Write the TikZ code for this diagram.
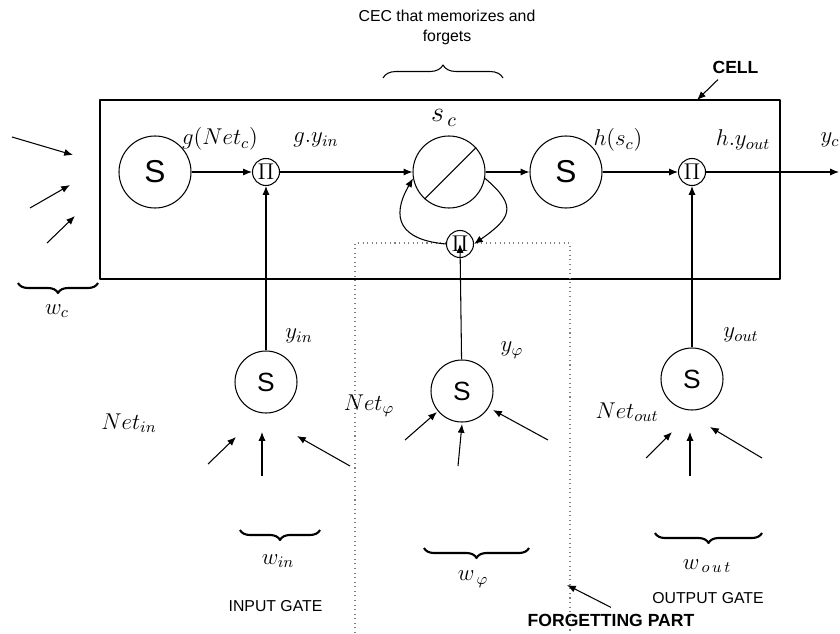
\documentclass[tikz,border=0pt]{standalone}
\usepackage{fix-cm}
\usepackage{fontspec}
\newfontfamily\arial{Liberation Sans}
\usetikzlibrary{arrows.meta,decorations.pathreplacing}
\begin{document}
\begin{tikzpicture}[line join=round,>={Latex[length=5pt,width=4pt]},line width=0.6pt,
	neuron/.style={circle,draw,minimum size=1.44cm,inner sep=0pt,font=\arial\fontsize{18}{18}\selectfont},
	gate/.style={neuron,minimum size=1.24cm,font=\arial\fontsize{15}{15}\selectfont},
	prod/.style={circle,draw,fill=white,minimum size=0.54cm,inner sep=0pt,font=\fontsize{13}{13}\selectfont},
	lbl/.style={font=\fontsize{13}{15}\selectfont},
	txt/.style={font=\arial\fontsize{9}{11}\selectfont},
	bold/.style={font=\arial\bfseries\fontsize{10}{12}\selectfont},
	brc/.style={decorate,decoration={brace,amplitude=0.2cm},line width=1.2pt}]
	\useasboundingbox (0,0) rectangle (16.8,12.66);
	\draw[line width=0.9pt] (2,7.08) rectangle (15.6,10.66);
	\draw[gray,dotted] (7.1,0) -- (7.1,7.8) -- (11.4,7.8) -- (11.4,0);
	\node[neuron] (sc) at (3.1,9.22) {S};
	\node[prod] (pin) at (5.32,9.22) {$\Pi$};
	\node[neuron] (cec) at (8.98,9.22) {};
	\draw (cec.228) -- (cec.42);
	\node[neuron] (sh) at (11.32,9.22) {S};
	\node[prod] (pout) at (13.84,9.22) {$\Pi$};
	\node[prod] (pphi) at (9.2,7.78) {$\Pi$};
	\coordinate (yc) at (16.78,9.22);
	\node[gate] (gin) at (5.32,5.02) {S};
	\node[gate] (gphi) at (9.24,4.84) {S};
	\node[gate] (gout) at (13.84,5.08) {S};
	\draw[->] (sc) -- (pin);
	\draw[->] (pin) -- (cec);
	\draw[->] (cec) -- (sh);
	\draw[->] (sh) -- (pout);
	\draw[->] (pout) -- (yc);
	\draw[->] (cec.-10) to[out=-40,in=35,looseness=1.7] (pphi.east);
	\draw[->] (pphi.west) to[out=175,in=240,looseness=1.6] (cec.190);
	\draw[->] (gin) -- (pin);
	\draw[->] (gphi) -- (pphi.center);
	\draw[->] (gout) -- (pout);
	\draw[->] (0.24,9.92) -- (1.46,9.56);
	\draw[->] (0.6,8.5) -- (1.4,8.96);
	\draw[->] (0.94,7.8) -- (1.5,8.34);
	\draw[->] ([shift={(-1.16,-1.64)}]gin.center) -- ([shift={(-0.6,-1.1)}]gin.center);
	\draw[->] ([shift={(-0.08,-1.88)}]gin.center) -- ([shift={(-0.08,-1.0)}]gin.center);
	\draw[->] ([shift={(1.68,-1.68)}]gin.center) -- ([shift={(0.62,-1.08)}]gin.center);
	\draw[->] ([shift={(-1.14,-0.98)}]gphi.center) -- ([shift={(-0.5,-0.42)}]gphi.center);
	\draw[->] ([shift={(-0.08,-1.5)}]gphi.center) -- ([shift={(0,-0.66)}]gphi.center);
	\draw[->] ([shift={(1.72,-0.98)}]gphi.center) -- ([shift={(0.62,-0.38)}]gphi.center);
	\draw[->] ([shift={(-0.92,-1.58)}]gout.center) -- ([shift={(-0.4,-1.06)}]gout.center);
	\draw[->] ([shift={(-0.04,-1.94)}]gout.center) -- ([shift={(-0.04,-1.06)}]gout.center);
	\draw[->] ([shift={(1.4,-1.58)}]gout.center) -- ([shift={(0.36,-0.96)}]gout.center);
	\draw[brc] (1.96,7.0) -- (0.36,7.0);
	\draw[brc] (6.4,2.06) -- (4.8,2.06);
	\draw[brc] (10.58,1.7) -- (8.48,1.7);
	\draw[brc] (15.24,2.0) -- (13.1,2.0);
	\draw[decorate,decoration={brace,amplitude=0.26cm}] (7.66,11.1) -- (10.06,11.1);
	\node[lbl] (lgnet) at (4.4,9.88) {$g(Net_c)$};
	\node[lbl] (lgy) at (6.32,9.86) {$g.y_{in}$};
	\node[font=\fontsize{16}{16}\selectfont] (lsc) at (8.88,10.3) {$s_{\,c}$};
	\node[lbl] (lhs) at (12.36,9.86) {$h(s_c)$};
	\node[lbl] (lhy) at (14.86,9.86) {$h.y_{out}$};
	\node[lbl] (lyc) at (16.6,9.86) {$y_c$};
	\node[lbl] (lwc) at (1.14,6.44) {$w_c$};
	\node[lbl] (lyin) at (5.98,5.94) {$y_{in}$};
	\node[lbl] (lnin) at (2.58,4.2) {$Net_{in}$};
	\node[lbl] (lyphi) at (10.24,5.66) {$y_\varphi$};
	\node[lbl] (lnphi) at (7.38,4.54) {$Net_\varphi$};
	\node[lbl] (lyout) at (14.82,5.96) {$y_{out}$};
	\node[lbl] (lnout) at (12.54,4.42) {$Net_{out}$};
	\node[lbl] (lwin) at (5.56,1.44) {$w_{in}$};
	\node[lbl] (lwphi) at (9.46,1.08) {$w_{\,\varphi}$};
	\node[lbl] (lwout) at (14.14,1.34) {$w_{\,o\,u\,t}$};
	\node[txt,align=center] (cectxt) at (8.94,12.11) {CEC that memorizes and\\forgets};
	\node[txt] (ingate) at (5.51,0.54) {INPUT GATE};
	\node[txt] (outgate) at (14.16,0.7) {OUTPUT GATE};
	\node[bold] (cell) at (14.71,11.32) {CELL};
	\coordinate (celltop) at (13.94,10.66);
	\draw[->] ([xshift=-10pt]cell.south) -- (celltop);
	\node[bold] (forget) at (12.22,0.26) {FORGETTING PART};
	\coordinate (dotedge) at (11.34,0.96);
	\draw[->] (forget.north) -- (dotedge);
\end{tikzpicture}
\end{document}
